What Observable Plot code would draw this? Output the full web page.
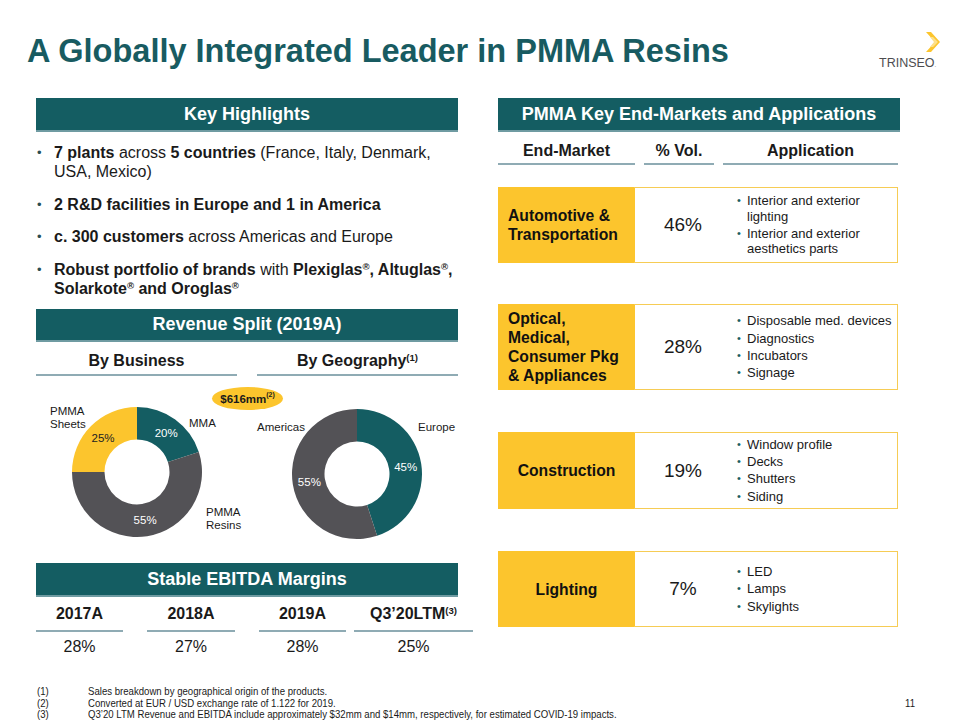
<!DOCTYPE html>
<html>
<head>
<meta charset="utf-8">
<script src="https://cdn.jsdelivr.net/npm/d3@7"></script>
<script src="https://cdn.jsdelivr.net/npm/@observablehq/plot@0.6"></script>
<style>
  body { margin: 0; background: #fff; }
  #slide { position: relative; width: 960px; height: 720px; overflow: hidden;
           font-family: "Liberation Sans", Arial, Helvetica, sans-serif; color: #1a1a1a; }
  .abs { position: absolute; }
  .bar { position: absolute; background: #145d62; color: #fff; font-weight: bold; font-size: 18px;
         display: flex; align-items: center; justify-content: center; box-sizing: border-box;
         border-bottom: 2px solid #6f9ba2; }
  .uh { position: absolute; box-sizing: border-box; border-bottom: 2px solid #8fabb4; text-align: center;
        font-weight: bold; font-size: 16px; line-height: 22px; white-space: nowrap; }
  sup { font-size: 60%; line-height: 0; vertical-align: baseline; position: relative; top: -0.55em; }
  ul { list-style: none; margin: 0; padding: 0; }
  #hl li { position: relative; padding-left: 18px; font-size: 16px; line-height: 19px; margin-bottom: 13.6px; }
  #hl li::before { content: "•"; position: absolute; left: 1px; top: 0; color: #2a4d52; font-size: 13px; }
  .apps li { position: relative; padding-left: 11px; font-size: 13px; line-height: 15.5px; margin-bottom: 1.8px; }
  .apps li:last-child { margin-bottom: 0; }
  .apps li::before { content: "•"; position: absolute; left: 1px; top: 0; color: #1d5e63; font-size: 11px; }
  .lbl { position: absolute; font-size: 11.5px; line-height: 12.5px; color: #1a1a1a; white-space: nowrap; }
  .fn { position: absolute; font-family: "Liberation Sans", Arial, sans-serif;
        font-size: 11px; line-height: 11px; color: #1a1a1a; white-space: nowrap;
        transform: scaleX(0.873); transform-origin: 0 0; }
</style>
</head>
<body>
<div id="slide"></div>
<script>
// ---------------- DATA ----------------
const slideTitle = "A Globally Integrated Leader in PMMA Resins";
const highlights = [
  "<b>7 plants</b> across <b>5 countries</b> (France, Italy, Denmark, USA, Mexico)",
  "<b>2 R&amp;D facilities in Europe and 1 in America</b>",
  "<b>c. 300 customers</b> across Americas and Europe",
  "<b>Robust portfolio of brands</b> with <b>Plexiglas<sup>®</sup>, Altuglas<sup>®</sup>, Solarkote<sup>®</sup> and Oroglas<sup>®</sup></b>"
];
const businessSegments = ["MMA", "PMMA Resins", "PMMA Sheets"];
const businessShare = [20, 55, 25];
const geoRegions = ["Europe", "Americas"];
const geoShare = [45, 55];
const totalRevenue = "$616mm";
const ebitdaPeriods = ["2017A", "2018A", "2019A", "Q3’20LTM"];
const ebitdaNotes = ["", "", "", "(3)"];
const ebitdaMargins = [28, 27, 28, 25];
const endMarkets = [
  ["Automotive &", "Transportation"],
  ["Optical,", "Medical,", "Consumer Pkg", "& Appliances"],
  ["Construction"],
  ["Lighting"]
];
const endMarketShare = [46, 28, 19, 7];
const endMarketApps = [
  ["Interior and exterior lighting", "Interior and exterior aesthetics parts"],
  ["Disposable med. devices", "Diagnostics", "Incubators", "Signage"],
  ["Window profile", "Decks", "Shutters", "Siding"],
  ["LED", "Lamps", "Skylights"]
];
const footnotes = [
  "Sales breakdown by geographical origin of the products.",
  "Converted at EUR / USD exchange rate of 1.122 for 2019.",
  "Q3’20 LTM Revenue and EBITDA include approximately $32mm and $14mm, respectively,  for estimated COVID-19 impacts."
];
const pageNumber = "11";

// ---------------- STYLES ----------------
const TEAL = "#145d62", GRAY = "#535256", YELLOW = "#fcc52d";
const businessColors = [TEAL, GRAY, YELLOW];
const geoColors = [TEAL, GRAY];

// ---------------- LAYOUT ----------------
const slide = document.getElementById("slide");
function el(tag, cls, css, html) {
  const e = document.createElement(tag);
  if (cls) e.className = cls;
  Object.assign(e.style, css || {});
  if (html != null) e.innerHTML = html;
  slide.appendChild(e);
  return e;
}
const px = v => v + "px";
function bar(x, y, w, h, text) { el("div", "bar", {left: px(x), top: px(y), width: px(w), height: px(h)}, text); }
function underHead(x, w, textCenter, lineY, html) {
  const top = textCenter - 11;
  el("div", "uh", {left: px(x), width: px(w), top: px(top), height: px(lineY + 1 - top)}, html);
}

// title
el("div", "abs", {left: "27px", top: "31px", fontSize: "32.5px", fontWeight: "bold", color: "#185b61",
  lineHeight: "40px", whiteSpace: "nowrap"}, slideTitle);
// logo
el("div", "abs", {left: "879px", top: "56px", fontSize: "12.5px", color: "#4d4d4f",
  lineHeight: "14px"}, "TRINSEO<span style='font-size:6px'>.</span>");
el("div", "abs", {left: "924px", top: "32px", width: "18px", height: "20px"},
  "<svg width='18' height='20' viewBox='0 0 18 20'><polygon points='2,0 7,0 16,10 7,20 2,20 11,10' fill='#fcc52d'/><polygon points='6,5 9,5 14,10 9,15 6,15 10,10' fill='#fde08a'/></svg>");

// left column
bar(36, 98, 422, 34, "Key Highlights");
const hl = el("ul", "abs", {left: "36px", top: "143px", width: "428px"});
hl.id = "hl";
highlights.forEach(h => { const li = document.createElement("li"); li.innerHTML = h; hl.appendChild(li); });

bar(36, 309, 422, 33, "Revenue Split (2019A)");
underHead(36, 201, 361, 375, "By Business");
underHead(257, 201, 361, 375, "By Geography<sup>(1)</sup>");

// total revenue badge
el("div", "abs", {left: "212px", top: "387px", width: "71px", height: "23px", borderRadius: "50%", background: YELLOW,
  display: "flex", alignItems: "center", justifyContent: "center", fontWeight: "bold", fontSize: "11.5px"},
  totalRevenue + "<sup>(2)</sup>");

// donuts
function donut(labels, values, colors, darkOn, left, top, size) {
  const data = labels.map((label, i) => ({label, value: values[i]}));
  const arcs = d3.pie().sort(null).value(d => d.value)(data);
  const R = 1, r = 0.5;
  const unitArc = d3.arc().innerRadius(r).outerRadius(R);
  const color = Plot.scale({color: {type: "ordinal", domain: labels, range: colors}});
  const labelData = arcs.map(a => {
    const [cx, cy] = unitArc.centroid(a);
    return {x: cx, y: -cy, text: a.data.value + "%", fill: darkOn.includes(a.data.label) ? "#222222" : "#ffffff"};
  });
  const chart = Plot.plot({
    width: size, height: size, margin: 0,
    x: {domain: [-1, 1], axis: null}, y: {domain: [-1, 1], axis: null},
    style: {background: "transparent", overflow: "visible", fontFamily: "'Liberation Sans', Arial, sans-serif"},
    marks: [
      (index, scales) => {
        const k = scales.x(1) - scales.x(0);
        const arcPx = d3.arc().innerRadius(r * k).outerRadius(R * k);
        const g = d3.create("svg:g").attr("transform", `translate(${scales.x(0)},${scales.y(0)})`);
        g.selectAll("path").data(arcs).join("path")
          .attr("d", arcPx).attr("fill", d => color.apply(d.data.label));
        return g.node();
      },
      Plot.text(labelData, {x: "x", y: "y", text: "text", fill: "fill", fontSize: 11.5})
    ]
  });
  const wrap = el("div", "abs", {left: px(left), top: px(top), width: px(size), height: px(size)});
  wrap.appendChild(chart);
}
donut(businessSegments, businessShare, businessColors, ["PMMA Sheets"], 72, 407, 130);
donut(geoRegions, geoShare, geoColors, [], 292, 409, 130);

// donut outer labels
el("div", "lbl", {left: "50px", top: "405px"}, "PMMA<br>Sheets");
el("div", "lbl", {left: "189px", top: "417px"}, businessSegments[0]);
el("div", "lbl", {left: "206px", top: "506px"}, "PMMA<br>Resins");
el("div", "lbl", {left: "257px", top: "421px"}, geoRegions[1]);
el("div", "lbl", {left: "418px", top: "421px"}, geoRegions[0]);

// EBITDA
bar(36, 563, 422, 34, "Stable EBITDA Margins");
const ebCols = [[36, 87], [147, 88], [259, 87], [354, 119]];
ebitdaPeriods.forEach((p, i) => {
  underHead(ebCols[i][0], ebCols[i][1], 614, 631, p + (ebitdaNotes[i] ? "<sup>" + ebitdaNotes[i] + "</sup>" : ""));
  el("div", "abs", {left: px(ebCols[i][0]), width: px(ebCols[i][1]), top: "638px", textAlign: "center",
    fontSize: "16px", lineHeight: "18px"}, ebitdaMargins[i] + "%");
});

// right column
bar(498, 98, 402, 34, "PMMA Key End-Markets and Applications");
underHead(498, 137, 151, 164, "End-Market");
underHead(644, 70, 151, 164, "% Vol.");
underHead(723, 175, 151, 164, "Application");

const rows = [[187, 76], [304, 86], [432, 77], [551, 76]];
endMarkets.forEach((m, i) => {
  const [top, h] = rows[i];
  const single = m.length === 1;
  el("div", "abs", {left: "498px", top: px(top), width: "137px", height: px(h), background: YELLOW,
    display: "flex", alignItems: "center", justifyContent: single ? "center" : "flex-start",
    boxSizing: "border-box", paddingLeft: single ? "0" : "10px",
    fontWeight: "bold", fontSize: "15.7px", lineHeight: "19px", color: "#111"}, m.join("<br>"));
  el("div", "abs", {left: "634px", top: px(top), width: "264px", height: px(h), boxSizing: "border-box",
    border: "1.5px solid #f6cc55", borderLeft: "none"});
  el("div", "abs", {left: "635px", top: px(top), width: "96px", height: px(h), display: "flex",
    alignItems: "center", justifyContent: "center", fontSize: "19px"}, endMarketShare[i] + "%");
  const box = el("div", "abs", {left: "736px", top: px(top), width: "161px", height: px(h), display: "flex",
    alignItems: "center"});
  const ul = document.createElement("ul");
  ul.className = "apps";
  endMarketApps[i].forEach(a => { const li = document.createElement("li"); li.textContent = a; ul.appendChild(li); });
  box.appendChild(ul);
});

// footnotes
footnotes.forEach((f, i) => {
  const y = 686 + i * 11.5;
  el("div", "fn", {left: "37px", top: px(y)}, "(" + (i + 1) + ")");
  el("div", "fn", {left: "88px", top: px(y)}, f);
});
el("div", "fn", {left: "905px", top: "698px"}, pageNumber);
</script>
</body>
</html>
